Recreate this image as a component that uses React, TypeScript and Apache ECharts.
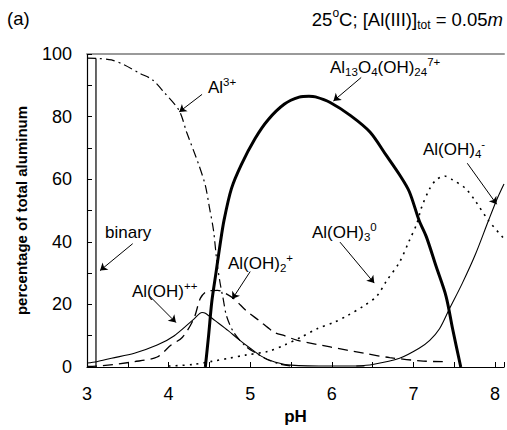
import React, { useEffect, useRef } from "react";
import * as echarts from "echarts";

const FONT = "'Liberation Sans', Arial, sans-serif";

// [pH, percentage]
const al3: number[][] = [
  [3.0, 98.7], [3.12, 98.6], [3.3, 98.1], [3.46, 96.5], [3.64, 93.9], [3.8, 91.8], [3.95, 87.6],
  [4.13, 81.9], [4.22, 75.1], [4.37, 64.6], [4.45, 58], [4.5, 51], [4.55, 43.7], [4.59, 34],
  [4.63, 27], [4.67, 21.6], [4.71, 16.3], [4.8, 11], [4.95, 6.5], [5.1, 4], [5.2, 2.5],
  [5.35, 1], [5.5, 0.3],
];
const al13: number[][] = [
  [4.45, 0], [4.49, 10], [4.53, 21], [4.58, 30], [4.63, 39], [4.68, 47], [4.77, 57], [4.89, 64.6],
  [5.06, 73], [5.22, 79], [5.42, 84], [5.6, 86.2], [5.72, 86.5], [5.8, 86.3], [5.98, 84.5],
  [6.23, 80.3], [6.47, 75], [6.67, 67.5], [6.83, 61.4], [6.95, 56], [7.07, 46.8], [7.16, 41.5],
  [7.28, 32], [7.4, 22.6], [7.48, 12.2], [7.58, 0],
];
const alOH: number[][] = [
  [3.0, 1.3], [3.12, 1.7], [3.3, 2.8], [3.58, 4.4], [3.86, 7], [4.07, 10], [4.31, 15.3],
  [4.41, 17.4], [4.45, 17.2], [4.57, 14.8], [4.73, 11.6], [4.85, 9], [5.0, 6], [5.14, 3.4],
  [5.3, 1.6], [5.5, 0.6], [6.0, 0.3], [6.4, 0.3],
];
const alOH2: number[][] = [
  [3.0, 0.2], [3.18, 0.4], [3.58, 1.7], [3.86, 3.2], [4.03, 7], [4.17, 9.5], [4.31, 15.5],
  [4.39, 22], [4.47, 24.2], [4.6, 24.5], [4.7, 23.5], [4.81, 21.6], [4.95, 18], [5.1, 15],
  [5.3, 11], [5.42, 10], [5.58, 8.5], [5.98, 6.4], [6.39, 4.4], [6.71, 3], [7.12, 1.9], [7.36, 1.7],
];
const alOH3: number[][] = [
  [4.0, 0.3], [4.3, 0.8], [4.53, 1.8], [4.74, 2.8], [4.94, 3.8], [5.22, 5], [5.42, 7], [5.62, 9.5],
  [5.82, 12.2], [6.03, 14.3], [6.19, 16.4], [6.39, 19.5], [6.55, 22.6], [6.67, 27.5], [6.83, 33.5],
  [6.95, 40.4], [7.04, 45.7], [7.1, 51], [7.2, 57], [7.28, 59.8], [7.38, 61], [7.48, 59.8],
  [7.64, 57], [7.76, 53], [7.92, 46.8], [8.11, 41],
];
const alOH4: number[][] = [
  [6.3, 0.3], [6.5, 0.8], [6.83, 2.8], [7.07, 6], [7.2, 8.5], [7.32, 12.2], [7.44, 18.5],
  [7.6, 26.8], [7.76, 36], [7.92, 46.8], [8.03, 54], [8.11, 58.5],
];
const binary: number[][] = [[3.11, 0], [3.11, 98.6]];

// annotation arrows: [fromPH, fromVal, toPH, toVal]
const arrows: number[][] = [
  [4.41, 87.1, 4.13, 81.5],
  [6.36, 92.5, 6.02, 85.0],
  [7.66, 65.1, 8.02, 52.0],
  [6.1, 39.9, 6.52, 26.8],
  [3.56, 39.4, 3.16, 30.8],
  [5.0, 30.5, 4.78, 21.7],
  [3.77, 22.6, 4.09, 14.2],
];

const xTicks = [3, 4, 5, 6, 7, 8];
const yTicks = [0, 20, 40, 60, 80, 100];

const RICH: any = {
  n: { fontSize: 17, lineHeight: 22, fontFamily: FONT, fill: "#000" },
  sup: { fontSize: 11.5, lineHeight: 11, verticalAlign: "top", fontFamily: FONT, fill: "#000" },
  sub: { fontSize: 11.5, lineHeight: 11, verticalAlign: "bottom", fontFamily: FONT, fill: "#000" },
  t: { fontSize: 18.5, lineHeight: 24, fontFamily: FONT, fill: "#000" },
  tsup: { fontSize: 12, lineHeight: 12, verticalAlign: "top", fontFamily: FONT, fill: "#000" },
  tsub: { fontSize: 12, lineHeight: 12, verticalAlign: "bottom", fontFamily: FONT, fill: "#000" },
  tit: { fontSize: 18.5, lineHeight: 24, fontStyle: "italic", fontFamily: FONT, fill: "#000" },
};

const lab = (x: number, y: number, text: string, align = "left") => ({
  type: "text",
  x,
  y,
  silent: true,
  style: { text, rich: RICH, fontFamily: FONT, fontSize: 17, fill: "#000", align, verticalAlign: "middle" },
});

export default function App() {
  const ref = useRef<HTMLDivElement>(null);
  useEffect(() => {
    if (!ref.current) return;
    const chart = echarts.init(ref.current, null, { renderer: "svg" });
    const line = (name: string, data: number[][], width: number, type: any, smooth: any = 0.3) => ({
      name,
      type: "line",
      data,
      showSymbol: false,
      smooth,
      silent: true,
      lineStyle: { color: "#000", width, type },
    });
    const option: any = {
      animation: false,
      backgroundColor: "#fff",
      grid: { left: 87, right: 0, top: 54, bottom: 58, containLabel: false },
      xAxis: [
        {
          type: "value",
          min: 3,
          max: 8.11,
          interval: 0.5,
          name: "pH",
          nameLocation: "middle",
          nameGap: 41,
          nameTextStyle: { fontSize: 17, fontWeight: "bold", fontFamily: FONT, color: "#000" },
          axisLine: { show: true, lineStyle: { color: "#000", width: 1.2 } },
          axisTick: { show: true, inside: true, length: 5, lineStyle: { color: "#000" } },
          axisLabel: {
            fontSize: 18,
            fontFamily: FONT,
            color: "#000",
            margin: 18,
            formatter: (v: number) => (xTicks.includes(Math.round(v * 100) / 100) ? String(v) : ""),
          },
          splitLine: { show: false },
        },
        {
          type: "value",
          position: "top",
          min: 3,
          max: 8.11,
          axisLine: { show: true, lineStyle: { color: "#9a9a9a", width: 2 } },
          axisTick: { show: false },
          axisLabel: { show: false },
          splitLine: { show: false },
        },
      ],
      yAxis: {
        type: "value",
        min: 0,
        max: 100,
        interval: 10,
        name: "percentage of total aluminum",
        nameLocation: "middle",
        nameGap: 58,
        nameTextStyle: { fontSize: 15, fontWeight: "bold", fontFamily: FONT, color: "#000" },
        axisLine: { show: true, lineStyle: { color: "#000", width: 1.2 } },
        axisTick: { show: true, inside: true, length: 5, lineStyle: { color: "#000" } },
        axisLabel: {
          fontSize: 18,
          fontFamily: FONT,
          color: "#000",
          margin: 15,
          formatter: (v: number) => (yTicks.includes(v) ? String(v) : ""),
        },
        splitLine: { show: false },
      },
      series: [
        {
          ...line("binary", binary, 1.2, "solid", false),
          markLine: {
            silent: true,
            symbol: ["none", "arrow"],
            symbolSize: 7,
            label: { show: false },
            lineStyle: { color: "#000", width: 1, type: "solid" },
            emphasis: { disabled: true },
            data: arrows.map((a) => [{ coord: [a[0], a[1]] }, { coord: [a[2], a[3]] }]),
          },
        },
        line("Al3+", al3, 1.2, [9, 4, 2, 4]),
        line("Al13", al13, 3),
        line("Al(OH)++", alOH, 1.1, "solid"),
        line("Al(OH)2+", alOH2, 1.3, [10, 6]),
        line("Al(OH)3", alOH3, 1.6, [2, 5]),
        line("Al(OH)4-", alOH4, 1.1, "solid"),
      ],
      graphic: [
        lab(7, 18, "{t|(a)}"),
        lab(503, 19, "{t|25}{tsup|o}{t|C; [Al(III)]}{tsub|tot}{t| = 0.05}{tit|m}", "right"),
        lab(208, 87, "{n|Al}{sup|3+}"),
        lab(330, 67, "{n|Al}{sub|13}{n|O}{sub|4}{n|(OH)}{sub|24}{sup|7+}"),
        lab(423, 149, "{n|Al(OH)}{sub|4}{sup|-}"),
        lab(312, 232, "{n|Al(OH)}{sub|3}{sup|0}"),
        lab(105, 232, "{n|binary}"),
        lab(228, 263, "{n|Al(OH)}{sub|2}{sup|+}"),
        lab(132, 291, "{n|Al(OH)}{sup|++}"),
      ],
    };
    chart.setOption(option);
    return () => chart.dispose();
  }, []);
  return (
    <div
      ref={ref}
      style={{ position: "absolute", left: 0, top: 0, width: 507, height: 430, background: "#fff" }}
    />
  );
}
